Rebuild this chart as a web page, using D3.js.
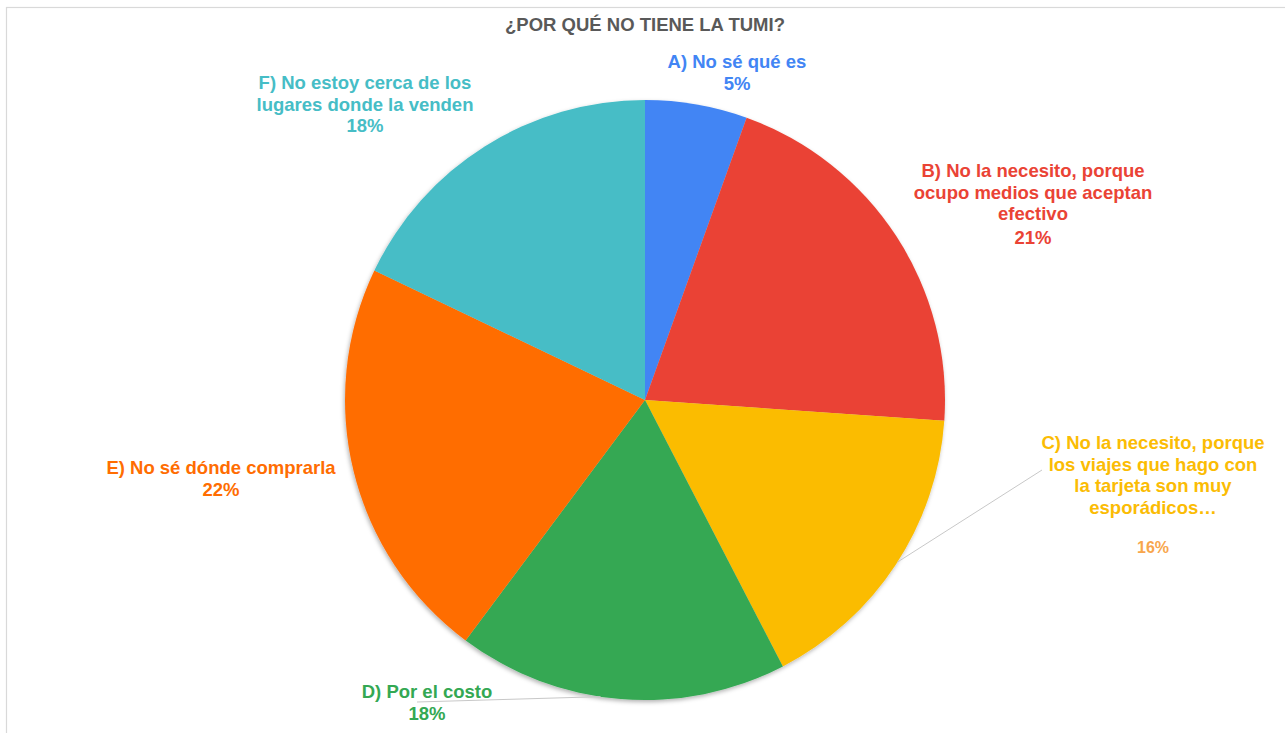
<!DOCTYPE html>
<html>
<head>
<meta charset="utf-8">
<script src="https://cdn.jsdelivr.net/npm/d3@7"></script>
<style>
  html, body { margin: 0; padding: 0; background: #fff; }
  svg { display: block; }
  text { font-family: "Liberation Sans", Arial, sans-serif; font-weight: bold; }
</style>
</head>
<body>
<svg id="chart" width="1285" height="733"></svg>
<script>
const title = "¿POR QUÉ NO TIENE LA TUMI?";
const categories = [
  "A) No sé qué es",
  "B) No la necesito, porque ocupo medios que aceptan efectivo",
  "C) No la necesito, porque los viajes que hago con la tarjeta son muy esporádicos…",
  "D) Por el costo",
  "E) No sé dónde comprarla",
  "F) No estoy cerca de los lugares donde la venden"
];
const values = [5.5, 20.6, 16.3, 17.8, 21.9, 17.9];
const percentLabels = ["5%", "21%", "16%", "18%", "22%", "18%"];
const colors = ["#4285f4", "#ea4335", "#fbbc04", "#34a853", "#ff6d01", "#46bdc6"];
// wrapped label lines as in the picture
const labelLines = [
  ["A) No sé qué es"],
  ["B) No la necesito, porque", "ocupo medios que aceptan", "efectivo"],
  ["C) No la necesito, porque", "los viajes que hago con", "la tarjeta son muy", "esporádicos…"],
  ["D) Por el costo"],
  ["E) No sé dónde comprarla"],
  ["F) No estoy cerca de los", "lugares donde la venden"]
];

const svg = d3.select("#chart");
const W = 1285, H = 733;

// frame
svg.append("rect").attr("x", 6.5).attr("y", 7.5).attr("width", W).attr("height", H)
  .attr("fill", "#fff").attr("stroke", "#d9d9d9").attr("stroke-width", 1.2);

svg.append("text").attr("x", 645).attr("y", 31).attr("text-anchor", "middle")
  .attr("font-size", 18.5).attr("fill", "#595959").text(title);

const defs = svg.append("defs");
const f = defs.append("filter").attr("id", "shadow").attr("x", "-10%").attr("y", "-10%").attr("width", "120%").attr("height", "120%");
f.append("feDropShadow").attr("dx", -1).attr("dy", 2).attr("stdDeviation", 2)
  .attr("flood-color", "#000").attr("flood-opacity", 0.3);

const cx = 645, cy = 400, R = 300;
const pie = d3.pie().sort(null).value(d => d)(values);
const arc = d3.arc().innerRadius(0).outerRadius(R);

const g = svg.append("g").attr("transform", `translate(${cx},${cy})`);
g.append("g").attr("filter", "url(#shadow)")
  .selectAll("path").data(pie).join("path")
  .attr("d", arc).attr("fill", (d, i) => colors[i]);

// label positions (centre x, first baseline y)
const labelPos = [
  { x: 737, y: 68 },
  { x: 1033, y: 177 },
  { x: 1153, y: 449 },
  { x: 427, y: 698 },
  { x: 221, y: 474 },
  { x: 365, y: 89 }
];
const lh = 21.5;

function edgePoint(d, frac) {
  const a = d.startAngle + (d.endAngle - d.startAngle) * frac;
  return [cx + R * Math.sin(a), cy - R * Math.cos(a)];
}
const pC = edgePoint(pie[2], 0.49);
svg.append("line").attr("x1", pC[0]).attr("y1", pC[1]).attr("x2", 1042).attr("y2", 470)
  .attr("stroke", "#c8c8c8").attr("stroke-width", 1);
const pD = edgePoint(pie[3], 0.56);
svg.append("line").attr("x1", pD[0]).attr("y1", pD[1]).attr("x2", 417).attr("y2", 702)
  .attr("stroke", "#c8c8c8").attr("stroke-width", 1);

labelLines.forEach((lines, i) => {
  const p = labelPos[i];
  const t = svg.append("text").attr("text-anchor", "middle").attr("font-size", 18.5).attr("fill", colors[i]);
  lines.forEach((ln, j) => {
    t.append("tspan").attr("x", p.x).attr("y", p.y + j * lh).text(ln);
  });
  if (i === 2) {
    svg.append("text").attr("text-anchor", "middle").attr("font-size", 16).attr("fill", "#f8a64c")
      .attr("x", p.x).attr("y", 553).text(percentLabels[i]);
  } else {
    t.append("tspan").attr("x", p.x).attr("y", p.y + lines.length * lh + (i === 1 ? 2 : 0)).text(percentLabels[i]);
  }
});
</script>
</body>
</html>
